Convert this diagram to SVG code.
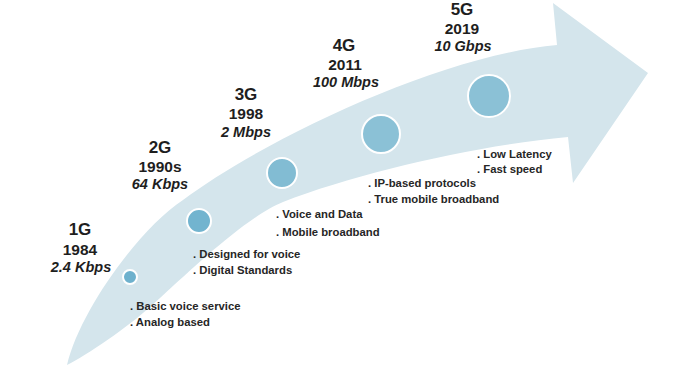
<svg xmlns="http://www.w3.org/2000/svg" width="699" height="367" viewBox="0 0 699 367">
<style>
.gen{font-family:"Liberation Sans",Arial,sans-serif;font-weight:bold;font-size:17px;fill:#1e1e1e;text-anchor:middle}
.yr{font-family:"Liberation Sans",Arial,sans-serif;font-weight:bold;font-size:15.5px;fill:#1e1e1e;text-anchor:middle}
.sp{font-family:"Liberation Sans",Arial,sans-serif;font-weight:bold;font-style:italic;font-size:14.5px;fill:#1e1e1e;text-anchor:middle}
.bl{font-family:"Liberation Sans",Arial,sans-serif;font-weight:bold;font-size:11.3px;fill:#262626}
.dot{stroke:#ffffff;stroke-width:2}
</style>
<rect x="0" y="0" width="699" height="367" fill="#ffffff"/>
<g id="arrow">
<path d="M67,365 C80,310 140,228 183,200 C263,140 440,55 557,45 L553,3 L648,73 L573,183 L568,137 C480,145 360,172 283,202 C243,218 175,285 150,307 C128,327 87,355 67,365 Z" fill="#d4e5ec"/>
</g>
<g id="g1">
<circle class="dot" cx="130" cy="277" r="7" fill="#6eb1cd"/>
<text class="gen" x="80" y="235">1G</text>
<text class="yr" x="80" y="255">1984</text>
<text class="sp" x="81" y="272">2.4 Kbps</text>
<text class="bl" x="130" y="310">. Basic voice service</text>
<text class="bl" x="130" y="326">. Analog based</text>
</g>
<g id="g2">
<circle class="dot" cx="199" cy="221" r="12" fill="#72b4cf"/>
<text class="gen" x="160" y="153">2G</text>
<text class="yr" x="160" y="172">1990s</text>
<text class="sp" x="160" y="189">64 Kbps</text>
<text class="bl" x="193" y="258">. Designed for voice</text>
<text class="bl" x="193" y="274">. Digital Standards</text>
</g>
<g id="g3">
<circle class="dot" cx="282" cy="173" r="15" fill="#82bcd3"/>
<text class="gen" x="246" y="100">3G</text>
<text class="yr" x="246" y="119">1998</text>
<text class="sp" x="246" y="137">2 Mbps</text>
<text class="bl" x="276" y="218">.  Voice and Data</text>
<text class="bl" x="276" y="236">. Mobile broadband</text>
</g>
<g id="g4">
<circle class="dot" cx="381" cy="134" r="19" fill="#8bc1d6"/>
<text class="gen" x="344" y="51">4G</text>
<text class="yr" x="345" y="70">2011</text>
<text class="sp" x="346" y="87">100 Mbps</text>
<text class="bl" x="368" y="187">. IP-based protocols</text>
<text class="bl" x="368" y="203">. True mobile broadband</text>
</g>
<g id="g5">
<circle class="dot" cx="489" cy="96" r="21" fill="#8bc1d6"/>
<text class="gen" x="462" y="15">5G</text>
<text class="yr" x="462" y="34">2019</text>
<text class="sp" x="463" y="51">10 Gbps</text>
<text class="bl" x="477" y="158">. Low Latency</text>
<text class="bl" x="477" y="173">. Fast speed</text>
</g>
<g id="connectors"></g>
</svg>
